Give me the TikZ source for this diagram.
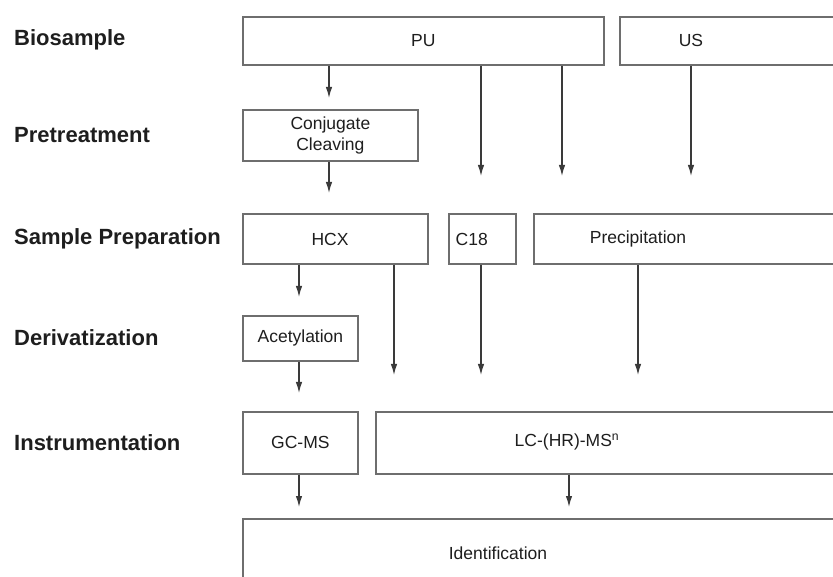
\documentclass[tikz,border=0pt]{standalone}
\usepackage{fontspec}
\setmainfont{Liberation Sans}
\usetikzlibrary{arrows.meta}
\definecolor{boxgray}{HTML}{6E6E6E}
\definecolor{arrowgray}{HTML}{3A3A3A}
\definecolor{txt}{HTML}{1E1E1E}
\begin{document}
\begin{tikzpicture}[x=1pt,y=-1pt,
 box/.style={draw=boxgray,line width=1.8pt,inner sep=0pt,anchor=north west,text=txt,font=\fontsize{17.5}{21}\selectfont,align=center},
 txtnode/.style={anchor=base,inner sep=0pt,text=txt,font=\fontsize{17.5}{21}\selectfont},
 rowlabel/.style={anchor=base west,inner sep=0pt,text=txt,font=\fontsize{22}{26}\selectfont\bfseries},
 arr/.style={draw=arrowgray,line width=1.3pt,-{Latex[length=11pt,width=6.5pt]}}]
\useasboundingbox (0,0) rectangle (833,577);
\clip (0,0) rectangle (833,577);
\fill[white] (0,0) rectangle (833,577);

% row labels
\node[rowlabel] (lbio) at (14,46) {Biosample};
\node[rowlabel] (lpre) at (14,142.7) {Pretreatment};
\node[rowlabel] (lsam) at (14,245) {Sample Preparation};
\node[rowlabel] (lder) at (14,345) {Derivatization};
\node[rowlabel] (lins) at (14,450) {Instrumentation};

% boxes
\node[box,minimum width=361pt,minimum height=48pt] (pu) at (242,16) {PU};
\node[box,minimum width=240pt,minimum height=48pt] (us) at (619,16) {};
\node[txtnode] (ust) at (691,46.7) {US};

\node[box,minimum width=175pt,minimum height=51pt] (conj) at (242,109) {Conjugate\\Cleaving};

\node[box,minimum width=185pt,minimum height=50pt] (hcx) at (242,213) {};
\node[txtnode] (hcxt) at (330,245.5) {HCX};
\node[box,minimum width=67pt,minimum height=50pt] (c18) at (448,213) {};
\node[txtnode] (c18t) at (471.7,245.5) {C18};
\node[box,minimum width=320pt,minimum height=50pt] (prec) at (533,213) {};
\node[txtnode] (prect) at (638,244) {Precipitation};

\node[box,minimum width=115pt,minimum height=45pt] (acet) at (242,315) {Acetylation};

\node[box,minimum width=115pt,minimum height=62pt] (gc) at (242,411) {GC-MS};
\node[box,minimum width=480pt,minimum height=62pt] (lc) at (375,411) {};
\node[txtnode] (lct) at (567,446.7) {LC-(HR)-MS\textsuperscript{n}};

\node[box,minimum width=620pt,minimum height=100pt] (ident) at (242,518) {};
\node[txtnode] (identt) at (498,559) {Identification};

% arrow tips
\coordinate (t1) at (329,98);
\coordinate (t2) at (481,176);
\coordinate (t3) at (562,176);
\coordinate (t4) at (691,176);
\coordinate (t5) at (329,193);
\coordinate (t6) at (299,297);
\coordinate (t7) at (394,375);
\coordinate (t8) at (481,375);
\coordinate (t9) at (638,375);
\coordinate (t10) at (299,393);
\coordinate (t11) at (299,507);
\coordinate (t12) at (569,507);

\draw[arr] (pu.south -| t1) -- (t1);
\draw[arr] (pu.south -| t2) -- (t2);
\draw[arr] (pu.south -| t3) -- (t3);
\draw[arr] (us.south -| t4) -- (t4);
\draw[arr] (conj.south -| t5) -- (t5);
\draw[arr] (hcx.south -| t6) -- (t6);
\draw[arr] (hcx.south -| t7) -- (t7);
\draw[arr] (c18.south -| t8) -- (t8);
\draw[arr] (prec.south -| t9) -- (t9);
\draw[arr] (acet.south -| t10) -- (t10);
\draw[arr] (gc.south -| t11) -- (t11);
\draw[arr] (lc.south -| t12) -- (t12);
\end{tikzpicture}
\end{document}
